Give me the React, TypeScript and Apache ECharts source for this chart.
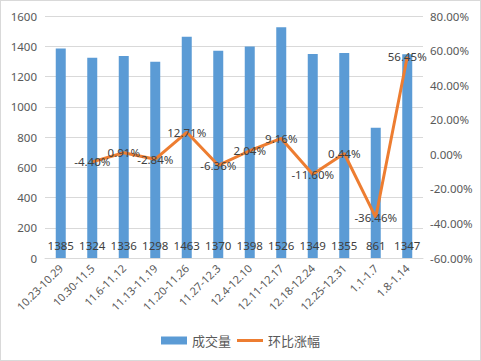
import React, { useEffect, useRef } from "react";
import * as echarts from "echarts";

const categories = ["10.23-10.29", "10.30-11.5", "11.6-11.12", "11.13-11.19", "11.20-11.26", "11.27-12.3", "12.4-12.10", "12.11-12.17", "12.18-12.24", "12.25-12.31", "1.1-1.7", "1.8-1.14"];
const volume = [1385, 1324, 1336, 1298, 1463, 1370, 1398, 1526, 1349, 1355, 861, 1347];
const change = [null, -4.40, 0.91, -2.84, 12.71, -6.36, 2.04, 9.16, -11.60, 0.44, -36.46, 56.45];

const FONT = "'Noto Sans', 'Noto Sans CJK SC', sans-serif";

export default function App() {
  const ref = useRef<HTMLDivElement>(null);
  useEffect(() => {
    const chart = echarts.init(ref.current!, null, { renderer: "svg" });
    chart.setOption({
      animation: false,
      textStyle: { fontFamily: FONT },
      grid: { left: 44, right: 57, top: 15, bottom: 102 },
      legend: {
        bottom: 8,
        left: "center",
        itemWidth: 26,
        itemHeight: 8,
        itemGap: 6,
        textStyle: { fontSize: 13, color: "#595959", fontFamily: "'Noto Sans CJK SC', sans-serif" },
        data: [
          { name: "成交量", icon: "rect" },
          { name: "环比涨幅", icon: "path://M0,0 L26,0 L26,3 L0,3 Z", itemStyle: { color: "#ED7D31", opacity: 1 } },
        ],
      },
      xAxis: {
        type: "category",
        data: categories,
        axisTick: { show: false },
        axisLine: { lineStyle: { color: "#d9d9d9" } },
        axisLabel: { rotate: 45, fontSize: 11, color: "#595959", interval: 0, margin: 8 },
      },
      yAxis: [
        {
          type: "value",
          min: 0,
          max: 1600,
          interval: 200,
          axisLine: { show: false },
          axisTick: { show: false },
          splitLine: { lineStyle: { color: "#d9d9d9" } },
          axisLabel: { fontSize: 11.5, color: "#595959", margin: 8, formatter: (v: number) => String(v) },
        },
        {
          type: "value",
          min: -60,
          max: 80,
          interval: 20,
          axisLine: { show: false },
          axisTick: { show: false },
          splitLine: { show: false },
          axisLabel: { fontSize: 11.5, color: "#595959", margin: 7, formatter: (v: number) => v.toFixed(2) + "%" },
        },
      ],
      series: [
        {
          name: "成交量",
          type: "bar",
          data: volume,
          barWidth: 10,
          itemStyle: { color: "#5B9BD5" },
          label: { show: true, position: "insideBottom", distance: 7, color: "#404040", fontSize: 11.5 },
          z: 1,
        },
        {
          name: "环比涨幅",
          type: "line",
          yAxisIndex: 1,
          data: change,
          symbol: "circle",
          symbolSize: 4,
          showSymbol: true,
          lineStyle: { color: "#ED7D31", width: 3 },
          itemStyle: { color: "rgba(0,0,0,0)", borderWidth: 0 },
          label: { show: true, position: "inside", color: "#404040", fontSize: 11.5, opacity: 1, formatter: (p: any) => p.value.toFixed(2) + "%" },
          z: 2,
        },
      ],
    });
    return () => chart.dispose();
  }, []);
  return (
    <div style={{ position: "absolute", left: 0, top: 0, width: 481, height: 361, boxSizing: "border-box", border: "1px solid #d9d9d9", background: "#fff" }}>
      <div ref={ref} style={{ width: 479, height: 359 }} />
    </div>
  );
}
